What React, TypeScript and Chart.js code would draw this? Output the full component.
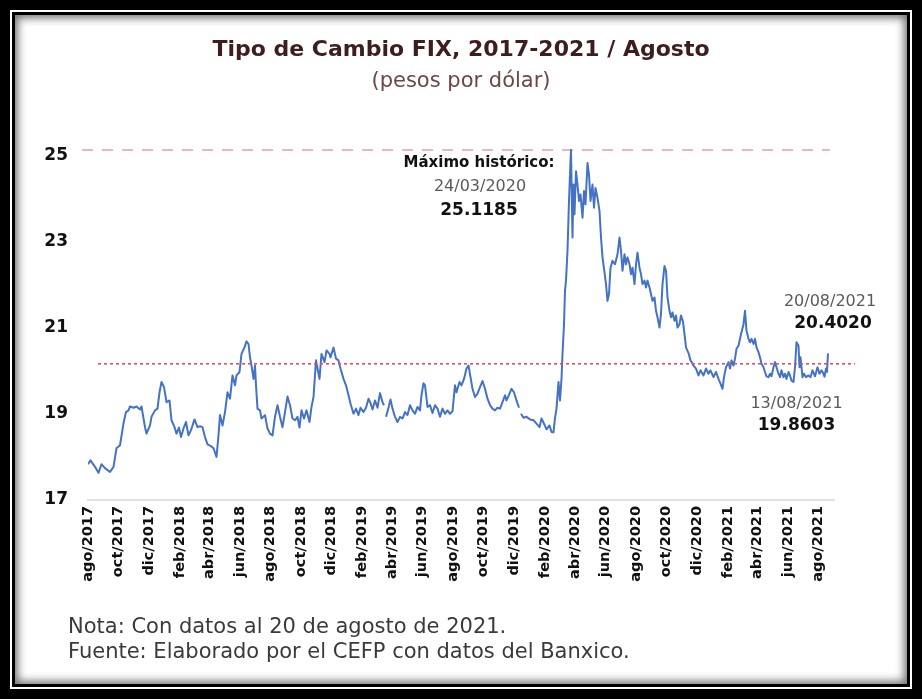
import React, { useEffect, useRef } from "react";
import { Chart, registerables } from "chart.js";

Chart.register(...registerables);

// ---------------- DATA ----------------
const BASE_DATE = "2017-08-01";

const chartTitle = "Tipo de Cambio FIX, 2017-2021 / Agosto";
const chartSubtitle = "(pesos por dólar)";
const noteLines = [
  "Nota: Con datos al 20 de agosto de 2021.",
  "Fuente: Elaborado por el CEFP con datos del Banxico.",
];

const monthNames = ["ene", "feb", "mar", "abr", "may", "jun", "jul", "ago", "sep", "oct", "nov", "dic"];

const xTickLabels = [
  "ago/2017", "oct/2017", "dic/2017", "feb/2018", "abr/2018", "jun/2018", "ago/2018",
  "oct/2018", "dic/2018", "feb/2019", "abr/2019", "jun/2019", "ago/2019", "oct/2019",
  "dic/2019", "feb/2020", "abr/2020", "jun/2020", "ago/2020", "oct/2020", "dic/2020",
  "feb/2021", "abr/2021", "jun/2021", "ago/2021",
];
const xAxisEnd = "2021-09-01";

const yTickValues = [17, 19, 21, 23, 25];
const yMin = 17;
const yMax = 25.2;

// days elapsed since BASE_DATE
const dayOffsets = [
  0, 5, 14, 21, 27, 34, 44, 51, 57, 64, 71, 76, 81, 84, 91, 97, 104, 107, 114, 117,
  124, 127, 134, 139, 143, 147, 152, 157, 163, 167, 173, 177, 182, 186, 191, 196, 201, 206, 213, 219,
  224, 229, 234, 239, 246, 251, 257, 261, 264, 269, 274, 279, 284, 289, 294, 297, 303, 307, 313, 317,
  321, 324, 327, 331, 334, 336, 339, 344, 347, 354, 359, 364, 369, 374, 379, 384, 389, 394, 399, 404,
  409, 414, 419, 423, 427, 432, 437, 443, 447, 451, 456, 459, 463, 467, 473, 477, 483, 485, 491, 496,
  501, 505, 511, 516, 521, 525, 531, 536, 541, 545, 551, 556, 561, 565, 569, 574, 579, 584, 589, 592,
  593, 596, 601, 605, 609, 614, 619, 624, 629, 634, 639, 644, 649, 654, 659, 664, 667, 671, 674, 679,
  684, 689, 694, 699, 704, 709, 714, 719, 724, 729, 734, 737, 743, 747, 752, 757, 761, 765, 769, 774,
  779, 784, 789, 794, 799, 804, 809, 814, 819, 824, 829, 834, 837, 843, 847, 852, 857, 862, 864, 866,
  871, 877, 884, 891, 897, 903, 907, 912, 917, 923, 927, 931, 934, 937, 941, 944, 947, 949, 952, 954,
  956, 959, 962, 965, 966, 969, 971, 973, 976, 979, 982, 985, 989, 992, 995, 999, 1002, 1005, 1009, 1012,
  1015, 1019, 1023, 1026, 1029, 1033, 1036, 1039, 1042, 1045, 1049, 1054, 1059, 1063, 1066, 1069, 1073, 1076, 1079, 1083,
  1086, 1089, 1093, 1096, 1099, 1103, 1106, 1109, 1113, 1116, 1119, 1123, 1126, 1129, 1133, 1136, 1139, 1143, 1146, 1149,
  1153, 1156, 1159, 1163, 1166, 1169, 1173, 1176, 1179, 1183, 1186, 1190, 1193, 1196, 1201, 1205, 1211, 1216, 1221, 1225,
  1231, 1236, 1241, 1245, 1251, 1256, 1261, 1265, 1269, 1272, 1276, 1281, 1284, 1287, 1291, 1294, 1297, 1301, 1304, 1307,
  1311, 1314, 1317, 1321, 1324, 1327, 1331, 1334, 1337, 1341, 1344, 1347, 1351, 1354, 1357, 1361, 1364, 1367, 1371, 1374,
  1377, 1381, 1384, 1387, 1391, 1394, 1397, 1401, 1404, 1407, 1411, 1414, 1417, 1421, 1423, 1425, 1429, 1432, 1436, 1441,
  1445, 1449, 1454, 1459, 1463, 1467, 1470, 1473, 1476, 1478, 1480,
];

const fixValues: (number | null)[] = [
  17.83, 17.92, 17.77, 17.63, 17.83, 17.74, 17.65, 17.77, 18.2, 18.27, 18.78, 19.04, 19.08, 19.17, 19.14, 19.17, 19.1, 19.17, 18.69, 18.54,
  18.73, 18.93, 19.08, 19.12, 19.5, 19.74, 19.62, 19.27, 19.31, 18.85, 18.69, 18.54, 18.68, 18.46, 18.66, 18.81, 18.5, 18.62, 18.87, 18.69,
  18.71, 18.69, 18.46, 18.29, 18.25, 18.2, 18.0, 18.5, 18.97, 18.73, 19.04, 19.5, 19.35, 19.89, 19.66, 19.89, 19.97, 20.39, 20.54, 20.68,
  20.62, 20.31, 20.12, 19.81, 20.12, 19.66, 19.12, 19.08, 18.89, 18.97, 18.66, 18.54, 18.5, 18.93, 19.2, 18.93, 18.69, 19.04, 19.4, 19.2,
  18.89, 18.85, 18.93, 18.68, 19.08, 18.89, 19.08, 18.81, 19.16, 19.39, 20.24, 20.05, 19.81, 20.39, 20.2, 20.47, 20.39, 20.31, 20.54, 20.28,
  20.24, 20.05, 19.81, 19.66, 19.43, 19.24, 19.0, 19.12, 18.97, 19.14, 19.04, 19.14, 19.35, 19.25, 19.1, 19.31, 19.14, 19.48, 19.27, 19.2,
  null, 18.93, 19.14, 19.33, 19.12, 18.93, 18.81, 18.93, 18.89, 19.04, 18.97, 19.2, 19.08, 19.0, 19.16, 19.08, 19.43, 19.71, 19.66, 19.16,
  19.2, 19.02, 19.2, 19.12, 18.93, 19.12, 19.0, 19.08, 19.0, 19.06, 19.66, 19.5, 19.74, 19.66, 19.81, 20.05, 20.12, 19.85, 19.58, 19.39,
  19.47, 19.62, 19.76, 19.58, 19.35, 19.2, 19.12, 19.08, 19.14, 19.12, 19.27, 19.43, 19.31, 19.47, 19.58, 19.5, 19.31, 19.14, null, 19.0,
  18.91, 18.93, 18.87, 18.85, 18.77, 18.69, 18.89, 18.77, 18.64, 18.73, 18.58, 18.57, 18.9, 19.12, 19.74, 19.31, 19.81, 20.39, 21.08, 21.86,
  22.09, 22.78, 23.94, 24.86, 25.1185, 23.09, 24.32, 23.63, 24.63, 24.32, 23.94, 24.09, 23.55, 24.17, 23.86, 24.82, 24.55, 23.94, 24.32, 23.78,
  24.24, 24.01, 23.71, 23.09, 22.63, 22.28, 22.01, 21.62, 21.78, 22.39, 22.55, 22.47, 22.7, 23.09, 22.78, 22.32, 22.7, 22.47, 22.63, 22.47,
  22.24, 22.39, 22.01, 22.47, 22.74, 22.39, 22.24, 22.01, 22.09, 21.93, 22.09, 21.93, 21.78, 21.62, 21.7, 21.39, 21.24, 21.0, 21.32, 22.01,
  22.43, 22.32, 21.7, 21.39, 21.24, 21.35, 21.16, 21.28, 21.0, 21.08, 21.28, 21.14, 20.85, 20.54, 20.41, 20.24, 20.12, 20.05, 19.89, 20.01,
  19.89, 20.05, 19.93, 20.01, 19.85, 19.97, 19.81, 19.7, 19.58, 19.85, 20.08, 20.2, 20.05, 20.24, 20.12, 20.28, 20.51, 20.58, 20.74, 20.89,
  21.08, 21.39, 20.93, 20.74, 20.66, 20.74, 20.62, 20.74, 20.54, 20.43, 20.31, 20.16, 20.08, 19.97, 19.87, 19.85, 19.93, 19.87, 20.08, 20.2,
  20.08, 19.93, 19.85, 20.01, 19.85, 19.93, 19.81, 19.97, 19.89, 19.77, 19.74, 20.08, 20.66, 20.58, 20.08, 20.31, 19.85, 19.93, 19.85, 19.89,
  19.85, 20.01, 19.87, 20.08, 19.93, 20.01, 19.95, 19.8603, 20.05, 19.97, 20.402,
];

// historic maximum
const maxDate = "2020-03-24";
const maxValue = 25.1185;
const maxLabel = "Máximo histórico:";
// latest observation and a week earlier
const lastDate = "2021-08-20";
const lastValue = 20.402;
const weekAgoDate = "2021-08-13";
const weekAgoValue = 19.8603;
// reference levels
const avgLevel = 20.16;
const maxLineSpan = ["2017-07-20", "2021-08-24"];
const avgLineSpan = ["2017-08-21", "2021-10-13"];

// ---------------- HELPERS ----------------
const DAY_MS = 86400000;
const parseISO = (s: string) => {
  const [y, m, d] = s.split("-").map(Number);
  return Date.UTC(y, m - 1, d);
};
const baseMs = parseISO(BASE_DATE);
const dayOf = (iso: string) => Math.round((parseISO(iso) - baseMs) / DAY_MS);
const tickDay = (label: string) => {
  const [mon, yr] = label.split("/");
  return Math.round((Date.UTC(Number(yr), monthNames.indexOf(mon), 1) - baseMs) / DAY_MS);
};
const fmtDate = (iso: string) => {
  const [y, m, d] = iso.split("-");
  return `${d}/${m}/${y}`;
};
const fmtVal = (v: number) => v.toFixed(4);

const FONT = "'DejaVu Sans', sans-serif";

const annotationPlugin = {
  id: "fixAnnotations",
  afterDatasetsDraw(chart: any) {
    const { ctx, scales } = chart;
    const xs = scales.x;
    const ys = scales.y;
    ctx.save();
    ctx.textAlign = "center";
    ctx.textBaseline = "middle";

    const mx = xs.getPixelForValue(dayOf(maxDate));
    const my = ys.getPixelForValue(maxValue);
    ctx.fillStyle = "#111111";
    ctx.font = `bold 15px ${FONT}`;
    ctx.fillText(maxLabel, mx - 92, my + 13);
    ctx.fillStyle = "#5a5a5a";
    ctx.font = `16px ${FONT}`;
    ctx.fillText(fmtDate(maxDate), mx - 91, my + 37);
    ctx.fillStyle = "#111111";
    ctx.font = `bold 17px ${FONT}`;
    ctx.fillText(fmtVal(maxValue), mx - 92, my + 60);

    const lx = xs.getPixelForValue(dayOf(lastDate));
    const ly = ys.getPixelForValue(lastValue);
    ctx.fillStyle = "#5a5a5a";
    ctx.font = `16px ${FONT}`;
    ctx.fillText(fmtDate(lastDate), lx + 2, ly - 52);
    ctx.fillStyle = "#111111";
    ctx.font = `bold 17px ${FONT}`;
    ctx.fillText(fmtVal(lastValue), lx + 5, ly - 30);

    const wx = xs.getPixelForValue(dayOf(weekAgoDate));
    const wy = ys.getPixelForValue(weekAgoValue);
    ctx.fillStyle = "#5a5a5a";
    ctx.font = `16px ${FONT}`;
    ctx.fillText(fmtDate(weekAgoDate), wx - 28, wy + 27);
    ctx.fillStyle = "#111111";
    ctx.font = `bold 17px ${FONT}`;
    ctx.fillText(fmtVal(weekAgoValue), wx - 28, wy + 49);

    // notes
    const area = chart.chartArea;
    ctx.textAlign = "left";
    ctx.fillStyle = "#3a3a3a";
    ctx.font = `21px ${FONT}`;
    noteLines.forEach((line, i) => {
      ctx.fillText(line, area.left - 20, area.bottom + 128 + i * 25);
    });
    ctx.restore();
  },
};

export default function App() {
  const canvasRef = useRef<HTMLCanvasElement | null>(null);

  useEffect(() => {
    if (!canvasRef.current) return;
    const seriesData = dayOffsets.map((d, i) => ({ x: d, y: fixValues[i] }));
    const maxLine = maxLineSpan.map((s) => ({ x: dayOf(s), y: maxValue }));
    const avgLine = avgLineSpan.map((s) => ({ x: dayOf(s), y: avgLevel }));
    const xTicks = xTickLabels.map(tickDay);

    const chart = new Chart(canvasRef.current, {
      type: "line",
      data: {
        datasets: [
          {
            label: "FIX",
            data: seriesData as any,
            borderColor: "#4472C4",
            borderWidth: 2,
            pointRadius: 0,
            tension: 0,
            spanGaps: false,
            borderJoinStyle: "round",
            order: 1,
          },
          {
            label: "Máximo",
            data: maxLine as any,
            borderColor: "#e9b7bf",
            borderWidth: 2,
            borderDash: [11, 9],
            pointRadius: 0,
            clip: false as any,
            order: 2,
          },
          {
            label: "Promedio",
            data: avgLine as any,
            borderColor: "#e4505e",
            borderWidth: 1.6,
            borderDash: [3, 3],
            pointRadius: 0,
            clip: false as any,
            order: 0,
          },
        ],
      },
      options: {
        responsive: false,
        animation: false,
        parsing: true,
        layout: { padding: { top: 20, left: 30, right: 88, bottom: 109 } },
        plugins: {
          legend: { display: false },
          tooltip: { enabled: false },
          title: {
            display: true,
            text: chartTitle,
            fullSize: false,
            color: "#3d1d1d",
            font: { family: FONT, size: 22, weight: "bold" },
            padding: { top: 17, bottom: 0 },
          },
          subtitle: {
            display: true,
            text: chartSubtitle,
            fullSize: false,
            color: "#6e4646",
            font: { family: FONT, size: 21, weight: "normal" },
            padding: { top: 6, bottom: 52 },
          },
        },
        scales: {
          x: {
            type: "linear",
            min: 0,
            max: dayOf(xAxisEnd),
            grid: { display: false, drawTicks: false },
            border: { display: true, color: "#eadde0", width: 2 },
            afterBuildTicks: (scale: any) => {
              scale.ticks = xTicks.map((v) => ({ value: v }));
            },
            afterFit: (scale: any) => {
              scale.height = 90;
            },
            ticks: {
              autoSkip: false,
              maxRotation: 90,
              minRotation: 90,
              padding: 6,
              color: "#111111",
              font: { family: FONT, size: 14.5, weight: "bold" },
              callback: (value: any) => {
                const i = xTicks.indexOf(Number(value));
                return i >= 0 ? xTickLabels[i] : "";
              },
            },
          },
          y: {
            type: "linear",
            min: yMin,
            max: yMax,
            grid: { display: false, drawTicks: false },
            border: { display: false },
            afterBuildTicks: (scale: any) => {
              scale.ticks = yTickValues.map((v) => ({ value: v }));
            },
            afterFit: (scale: any) => {
              scale.width = 58;
            },
            ticks: {
              padding: 20,
              color: "#111111",
              font: { family: FONT, size: 17, weight: "bold" },
              callback: (value: any) => String(value),
            },
          },
        },
      },
      plugins: [annotationPlugin],
    });
    return () => chart.destroy();
  }, []);

  return (
    <div
      style={{
        position: "fixed",
        left: 0,
        top: 0,
        width: 922,
        height: 699,
        background: "#000",
        boxSizing: "border-box",
        padding: 10,
      }}
    >
      <div
        style={{
          width: "100%",
          height: "100%",
          boxSizing: "border-box",
          border: "2px solid #fff",
          background: "#000",
          padding: 3,
        }}
      >
        <div
          style={{
            width: "100%",
            height: "100%",
            background: "#fff",
            boxShadow: "inset 0 0 9px 3px rgba(0,0,0,0.55)",
          }}
        />
      </div>
      <canvas
        ref={canvasRef}
        width={922}
        height={699}
        style={{ position: "absolute", left: 0, top: 0 }}
      />
    </div>
  );
}
